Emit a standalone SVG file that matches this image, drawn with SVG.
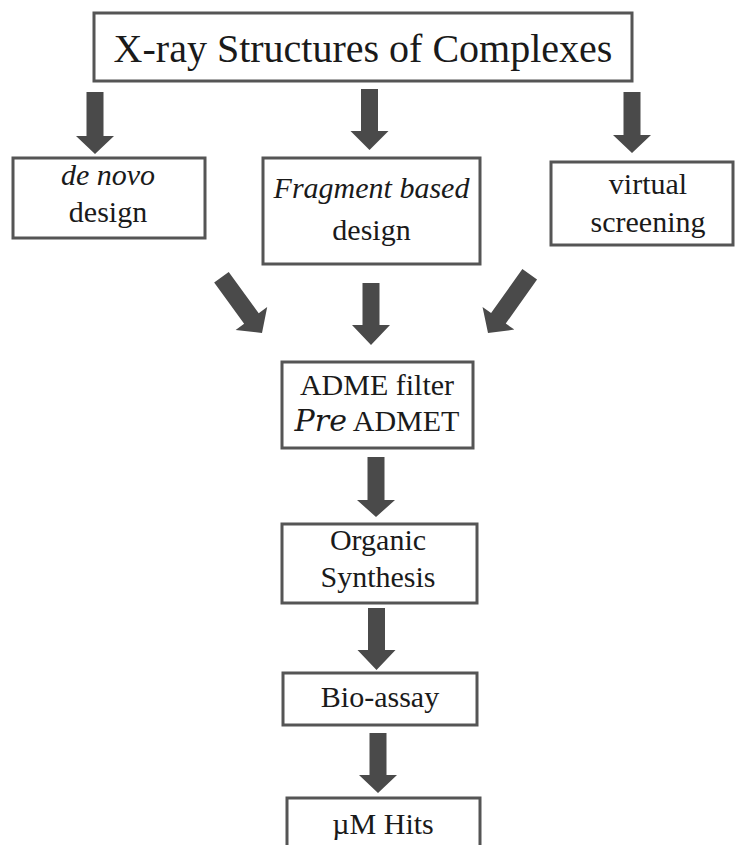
<svg xmlns="http://www.w3.org/2000/svg" width="736" height="845" viewBox="0 0 736 845">
<style>
.box{fill:#fff;stroke:#555;stroke-width:3}
text{font-family:'Liberation Serif',Tinos,'DejaVu Serif',serif;font-size:30px;fill:#1a1a1a;text-anchor:middle}
.it{font-style:italic}
.math{font-family:'DejaVu Serif',serif;font-style:italic}
.arr{fill:#4a4a4a}
</style>
<rect width="736" height="845" fill="#fff"/>
<g id="connectors">
<polygon class="arr" points="86.5,92 103.5,92 103.5,136 114,136 95,154 76,136 86.5,136"/>
<polygon class="arr" points="361,89 378,89 378,131 388.5,131 369.5,150 350.5,131 361,131"/>
<polygon class="arr" points="623.5,92 640.5,92 640.5,135 651,135 632,153 613,135 623.5,135"/>
<polygon class="arr" transform="translate(262,333) rotate(-36)" points="-9,-69 9,-69 9,-18 19.5,-18 0,0 -19.5,-18 -9,-18"/>
<polygon class="arr" points="362.5,283 379.5,283 379.5,325 390,325 371,345 352,325 362.5,325"/>
<polygon class="arr" transform="translate(488,333) rotate(35.4)" points="-9,-72 9,-72 9,-18 19.5,-18 0,0 -19.5,-18 -9,-18"/>
<polygon class="arr" points="367.5,457 384.5,457 384.5,500 395,500 376,517 357,500 367.5,500"/>
<polygon class="arr" points="368,608 385,608 385,650 395.5,650 376.5,670 357.5,650 368,650"/>
<polygon class="arr" points="369.5,733 386.5,733 386.5,775 397,775 378,793 359,775 369.5,775"/>
</g>
<g id="xray">
<rect class="box" x="94" y="13" width="538" height="68"/>
<text x="363" y="62" style="font-size:40px">X-ray Structures of Complexes</text>
</g>
<g id="denovo">
<rect class="box" x="13" y="158" width="192" height="80"/>
<text class="it" x="108" y="185">de novo</text>
<text x="108" y="222">design</text>
</g>
<g id="fragment">
<rect class="box" x="263" y="158" width="217" height="106"/>
<text class="it" x="371.5" y="198">Fragment based</text>
<text x="371.5" y="240">design</text>
</g>
<g id="virtual">
<rect class="box" x="551" y="162" width="182" height="83"/>
<text x="648" y="194">virtual</text>
<text x="648" y="232">screening</text>
</g>
<g id="adme">
<rect class="box" x="282" y="362" width="191" height="86"/>
<text x="377" y="395">ADME filter</text>
<text x="377" y="431"><tspan class="math">Pre</tspan> ADMET</text>
</g>
<g id="organic">
<rect class="box" x="282" y="524" width="195" height="79"/>
<text x="378" y="550">Organic</text>
<text x="378" y="587">Synthesis</text>
</g>
<g id="bioassay">
<rect class="box" x="283" y="673" width="194" height="52"/>
<text x="380" y="707">Bio-assay</text>
</g>
<g id="hits">
<rect class="box" x="287" y="798" width="193" height="60"/>
<text x="383" y="834">µM Hits</text>
</g>
</svg>
